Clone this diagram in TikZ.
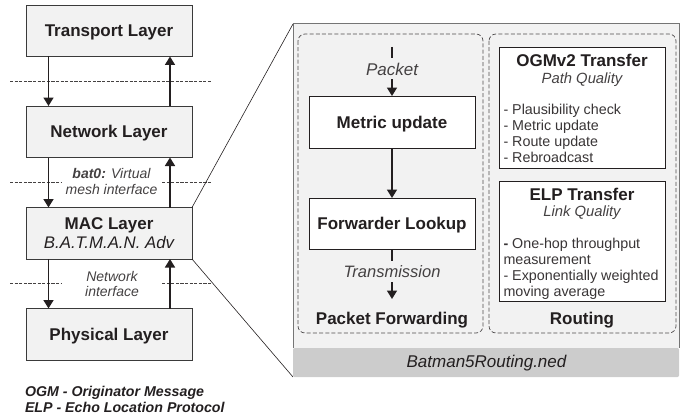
\documentclass[tikz,border=0pt]{standalone}
\usepackage{fontspec}
\setmainfont{Liberation Sans}
\usetikzlibrary{arrows.meta}
\definecolor{txt}{HTML}{231F20}
\definecolor{panel}{HTML}{F2F2F2}
\definecolor{foot}{HTML}{CCCCCC}
\definecolor{edge}{HTML}{3A3A3A}
\tikzset{
  x=1pt,y=-1pt,
  every node/.style={text=txt,inner sep=0pt,outer sep=0pt},
  layerbox/.style={draw=edge,line width=0.9pt,fill=panel,minimum width=166pt,minimum height=51.5pt,anchor=north west,font=\fontsize{17}{20}\selectfont\bfseries,align=center,text depth=0pt},
  whitebox/.style={draw=txt,line width=0.9pt,fill=white,minimum width=166pt,anchor=north west,text depth=0pt},
  lab/.style={font=\fontsize{14}{15.5}\selectfont\itshape,align=center,text=txt!85!white},
  head/.style={font=\fontsize{17}{20}\selectfont\bfseries,align=center},
  bodytext/.style={font=\fontsize{14.3}{16.1}\selectfont,align=left,anchor=north west,text=txt!90!white},
  flow/.style={draw=txt,line width=1.6pt,-{Triangle[width=10pt,length=8.5pt]}},
  plainflow/.style={draw=txt,line width=1.6pt},
  sep/.style={draw=txt!85!white,line width=0.5pt,dash pattern=on 3.2pt off 1.4pt},
  zone/.style={draw=txt!80!white,line width=0.7pt,dash pattern=on 4pt off 2.2pt,rounded corners=7pt},
  zoomline/.style={draw=txt,line width=0.6pt}
}
\begin{document}
\begin{tikzpicture}
\useasboundingbox (0,0) rectangle (688,420);
% panel
\node[draw=none,fill=panel,minimum width=386pt,minimum height=353pt,anchor=north west] (panelbox) at (293,24) {};
\fill[foot,rounded corners=1.5pt] (293,348) rectangle (679,377);
\draw[edge!70!white,line width=1pt] (293,348) -- (293,24) -- (679,24) -- (679,348);
\node[font=\fontsize{17}{20}\selectfont\itshape] (ned) at (486.5,363.5) {Batman5Routing.ned};
\draw[zone] (298,34) rectangle (483,333);
\draw[zone] (489,34) rectangle (676,333);
% separators
\coordinate (s1a) at (10,81); \coordinate (s1b) at (212,81);
\coordinate (s2a) at (10,182); \coordinate (s2b) at (62,182);
\coordinate (s2c) at (162,182); \coordinate (s2d) at (212,182);
\coordinate (s3a) at (10,283); \coordinate (s3b) at (62,283);
\coordinate (s3c) at (162,283); \coordinate (s3d) at (212,283);
\draw[sep] (s1a) -- (s1b);
\draw[sep] (s2a) -- (s2b);
\draw[sep] (s2c) -- (s2d);
\draw[sep] (s3a) -- (s3b);
\draw[sep] (s3c) -- (s3d);
% layers
\node[layerbox] (transport) at (26,5) {Transport Layer};
\node[layerbox] (network) at (26,106) {Network Layer};
\node[layerbox] (mac) at (26,207.5) {MAC Layer\\[-1pt]{\fontsize{16.8}{19}\selectfont\mdseries\itshape B.A.T.M.A.N. Adv}};
\node[layerbox] (physical) at (26,308.5) {Physical Layer};
% layer arrows
\foreach \a/\b in {transport/network,network/mac,mac/physical}{
  \draw[flow] ([xshift=22.5pt]\a.south west) -- ([xshift=22.5pt]\b.north west);
  \draw[flow] ([xshift=144pt]\b.north west) -- ([xshift=144pt]\a.south west);
}
\node[lab] (bat) at (111.5,181.5) {{\bfseries bat0:} Virtual\\mesh interface};
\node[lab] (nif) at (112,284) {Network\\interface};
\node[font=\fontsize{14.2}{16}\selectfont\bfseries\itshape,align=left,anchor=north west] (legend) at (25,386.5) {OGM - Originator Message\\ELP - Echo Location Protocol};
% zoom lines
\draw[zoomline] (mac.north east) -- (panelbox.north west);
\draw[zoomline] (mac.south east) -- (panelbox.south west);
% forwarding
\node[whitebox,minimum height=52pt,font=\fontsize{17}{20}\selectfont\bfseries] (metric) at (309,96) {Metric update};
\node[whitebox,minimum height=51pt,font=\fontsize{17}{20}\selectfont\bfseries] (lookup) at (309,198) {Forwarder Lookup};
\node[font=\fontsize{17}{20}\selectfont\itshape,text=txt!85!white,minimum height=21pt] (packet) at (392,69) {Packet};
\node[font=\fontsize{16.5}{20}\selectfont\itshape,text=txt!85!white,minimum height=21pt] (trans) at (392,271.5) {Transmission};
\coordinate (pstart) at (392,47);
\coordinate (tend) at (392,299);
\draw[plainflow] (pstart) -- (packet.north);
\draw[flow] (packet.south) -- (metric.north);
\draw[flow] (metric.south) -- (lookup.north);
\draw[plainflow] (lookup.south) -- (trans.north);
\draw[flow] (trans.south) -- (tend);
\node[head] (pf) at (392,320) {Packet Forwarding};
\node[head] (rt) at (582,320) {Routing};
% routing
\node[whitebox,minimum height=121pt] (ogm) at (499,47) {};
\node[whitebox,minimum height=120pt] (elp) at (499,181) {};
\node[head] (ogmt) at (582,60.5) {OGMv2 Transfer};
\node[lab,font=\fontsize{14.8}{17}\selectfont\itshape] (ogms) at (582,79.5) {Path Quality};
\node[bodytext] (ogmb) at (503.5,104) {- Plausibility check\\- Metric update\\- Route update\\- Rebroadcast};
\node[head] (elpt) at (582,194.5) {ELP Transfer};
\node[lab,font=\fontsize{14.8}{17}\selectfont\itshape] (elps) at (582,213) {Link Quality};
\node[bodytext] (elpb) at (503.5,238) {{\bfseries -} One-hop throughput\\measurement\\- Exponentially weighted\\moving average};
\end{tikzpicture}
\end{document}
